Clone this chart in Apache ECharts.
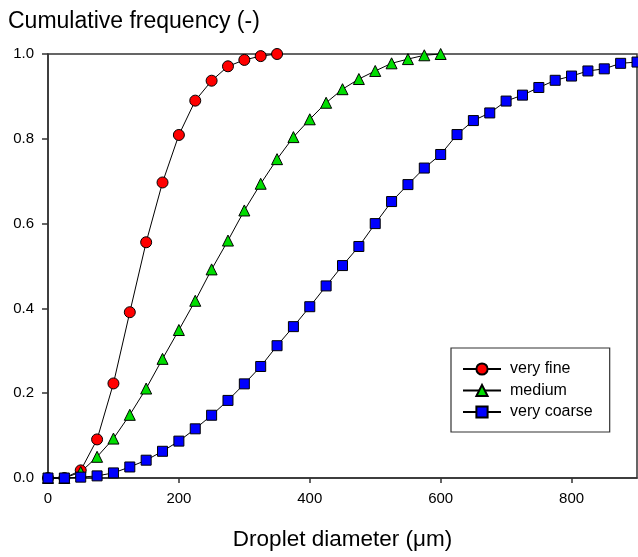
<!DOCTYPE html>
<html><head><meta charset="utf-8">
<script src="https://cdn.jsdelivr.net/npm/echarts@6/dist/echarts.min.js"></script>
<style>html,body{margin:0;padding:0;background:#fff}#c{width:638px;height:557px}</style>
</head><body><div id="c"></div>
<script>
const seriesNames = ['very fine', 'medium', 'very coarse'];
const xFine = [0,25,50,75,100,125,150,175,200,225,250,275,300,325,350];
const yFine = [0,0,0.018,0.091,0.223,0.391,0.556,0.697,0.809,0.890,0.937,0.971,0.986,0.995,1.0];
const xMedium = [0,25,50,75,100,125,150,175,200,225,250,275,300,325,350,375,400,425,450,475,500,525,550,575,600];
const yMedium = [0,0,0.014,0.050,0.093,0.149,0.211,0.281,0.349,0.418,0.492,0.560,0.631,0.694,0.752,0.804,0.846,0.885,0.917,0.941,0.960,0.978,0.988,0.997,1.0];
const xCoarse = [0,25,50,75,100,125,150,175,200,225,250,275,300,325,350,375,400,425,450,475,500,525,550,575,600,625,650,675,700,725,750,775,800,825,850,875,900];
const yCoarse = [0,0,0.002,0.005,0.012,0.026,0.042,0.063,0.087,0.116,0.148,0.183,0.222,0.263,0.312,0.357,0.404,0.453,0.501,0.546,0.600,0.652,0.692,0.731,0.763,0.810,0.843,0.861,0.889,0.903,0.921,0.938,0.948,0.960,0.965,0.978,0.981];
const xTicks = [0,200,400,600,800];
const yTickLabels = ['0.0','0.2','0.4','0.6','0.8','1.0'];

const pair = (xs, ys) => xs.map((x, i) => [x, ys[i]]);
const font = 'Liberation Sans, Arial, sans-serif';
const axisCol = '#333';

const chart = echarts.init(document.getElementById('c'), null, {renderer: 'canvas'});
const mk = (name, data, symbol, color, size) => ({
  name, type: 'line', data, symbol, symbolSize: size, clip: false,
  lineStyle: {color: '#000', width: 1},
  itemStyle: {color, borderColor: '#000', borderWidth: 1},
  emphasis: {disabled: true}, animation: false
});
chart.setOption({
  animation: false,
  grid: {left: 48, right: 1, top: 54, bottom: 79, show: true, borderColor: axisCol, borderWidth: 1.5, backgroundColor: 'transparent'},
  xAxis: {
    type: 'value', min: 0, max: 900, interval: 200,
    name: 'Droplet diameter (μm)', nameLocation: 'middle', nameGap: 50,
    nameTextStyle: {fontFamily: font, fontSize: 22.5, color: '#000'},
    axisLine: {show: true, onZero: false, lineStyle: {color: axisCol, width: 1.5}},
    axisTick: {show: true, length: 5, lineStyle: {color: axisCol, width: 1.5}},
    axisLabel: {fontFamily: font, fontSize: 15, color: '#000', margin: 13, showMaxLabel: false,
      formatter: v => xTicks.indexOf(v) >= 0 ? String(v) : ''},
    splitLine: {show: false}
  },
  yAxis: {
    type: 'value', min: 0, max: 1, interval: 0.2,
    name: 'Cumulative frequency (-)', nameLocation: 'end', nameGap: 21,
    nameTextStyle: {fontFamily: font, fontSize: 23, color: '#000', align: 'left', padding: [0,0,0,-40]},
    axisLine: {show: true, lineStyle: {color: axisCol, width: 1.5}},
    axisTick: {show: true, length: 6, lineStyle: {color: axisCol, width: 1.5}},
    axisLabel: {fontFamily: font, fontSize: 15, color: '#000', margin: 14,
      formatter: v => yTickLabels[Math.round(v / 0.2)]},
    splitLine: {show: false}
  },
  legend: {
    left: 451, top: 348, orient: 'vertical',
    padding: [13, 17, 12, 11],
    itemWidth: 38, itemHeight: 14, itemGap: 5.5,
    borderColor: axisCol, borderWidth: 1.2,
    textStyle: {fontFamily: font, fontSize: 16, color: '#000', padding: [0,0,0,4]},
    data: seriesNames
  },
  series: [
    mk(seriesNames[0], pair(xFine, yFine), 'circle', '#ff0000', 11),
    mk(seriesNames[1], pair(xMedium, yMedium), 'triangle', '#00dd00', 11),
    mk(seriesNames[2], pair(xCoarse, yCoarse), 'rect', '#0000ff', 10)
  ]
});
</script></body></html>
